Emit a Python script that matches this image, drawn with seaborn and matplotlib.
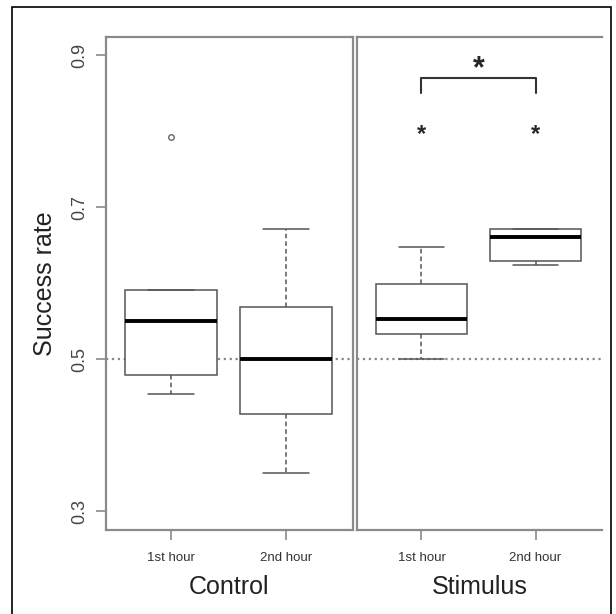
"""
Success rate boxplots, control vs stimulus, first and second hour.
"""

import matplotlib
matplotlib.use("Agg")
import matplotlib.pyplot as plt
from matplotlib.patches import Rectangle
import pandas as pd
import seaborn as sns

# five-number values (whisker low, Q1, median, Q3, whisker high / outlier)
hours = ["1st hour", "2nd hour"]
control_1st = [0.4535, 0.4786, 0.550, 0.591, 0.793]
control_2nd = [0.3496, 0.4272, 0.500, 0.568, 0.6707]
stimulus_1st = [0.500, 0.5333, 0.5526, 0.5987, 0.647]
stimulus_2nd = [0.6237, 0.629, 0.6605, 0.6715, 0.6715]
y_ticks = [0.3, 0.5, 0.7, 0.9]
chance_level = 0.5

sns.set_style("white")
plt.rcParams["font.family"] = ["Liberation Sans", "DejaVu Sans"]

W, H = 616, 614
fig = plt.figure(figsize=(W / 100, H / 100), dpi=100)
ax1 = fig.add_axes([106 / W, 84 / H, 247 / W, 493 / H])
ax2 = fig.add_axes([357 / W, 84 / H, 245 / W, 493 / H])

spine_col = "#8a8a8a"
box_kw = dict(
    x="hour", y="rate", color="white", linecolor="#555555", linewidth=1.1,
    width=0.8, whis=1.5,
    whiskerprops=dict(linestyle=(0, (3, 2))),
    medianprops=dict(color="black", linewidth=2.8),
    flierprops=dict(marker="o", markersize=4, markerfacecolor="white",
                    markeredgecolor="#666666"),
)

panels = [
    (ax1, "Control", control_1st, control_2nd),
    (ax2, "Stimulus", stimulus_1st, stimulus_2nd),
]
for ax, name, first, second in panels:
    df = pd.DataFrame({
        "hour": [hours[0]] * len(first) + [hours[1]] * len(second),
        "rate": first + second,
    })
    ax.axhline(chance_level, color="#888888", linestyle=":", linewidth=1.6, zorder=0)
    sns.boxplot(data=df, ax=ax, order=hours, **box_kw)
    ax.set_xlim(-0.565, 1.583)
    ax.set_ylim(0.275, 0.924)
    ax.set_xlabel(name, fontsize=18, color="#222222", labelpad=7.5)
    ax.set_ylabel("")
    ax.tick_params(axis="x", labelsize=9.5, labelcolor="#333333", length=7,
                   color=spine_col, width=1.2, direction="out", bottom=True, pad=9)
    for side in ["top", "bottom", "left", "right"]:
        ax.spines[side].set_color(spine_col)
        ax.spines[side].set_linewidth(1.6)

ax1.set_yticks(y_ticks)
ax1.set_yticklabels([f"{t:.1f}" for t in y_ticks], rotation=90, va="center")
ax1.tick_params(axis="y", labelsize=13, labelcolor="#444444", length=7,
                color=spine_col, width=1.2, direction="out", left=True, pad=6)
ax1.set_ylabel("Success rate", fontsize=18, color="#222222")
ax1.yaxis.set_label_coords(-0.198, 0.5)

ax2.set_yticks([])
ax2.spines["right"].set_visible(False)

# significance marks
ax2.text(0, 0.795, "*", ha="center", va="center", fontsize=17, fontweight="bold")
ax2.text(1, 0.795, "*", ha="center", va="center", fontsize=17, fontweight="bold")
ax2.plot([0, 0, 1, 1], [0.85, 0.87, 0.87, 0.85], color="#333333", linewidth=1.5)
ax2.text(0.5, 0.882, "*", ha="center", va="center", fontsize=22, fontweight="bold")

# outer frame
fig.add_artist(Rectangle((12 / W, -0.01), (611 - 12) / W, (H - 7) / H + 0.01,
                         transform=fig.transFigure, fill=False,
                         edgecolor="black", linewidth=1.2))

fig.savefig("out.png", dpi=100)
